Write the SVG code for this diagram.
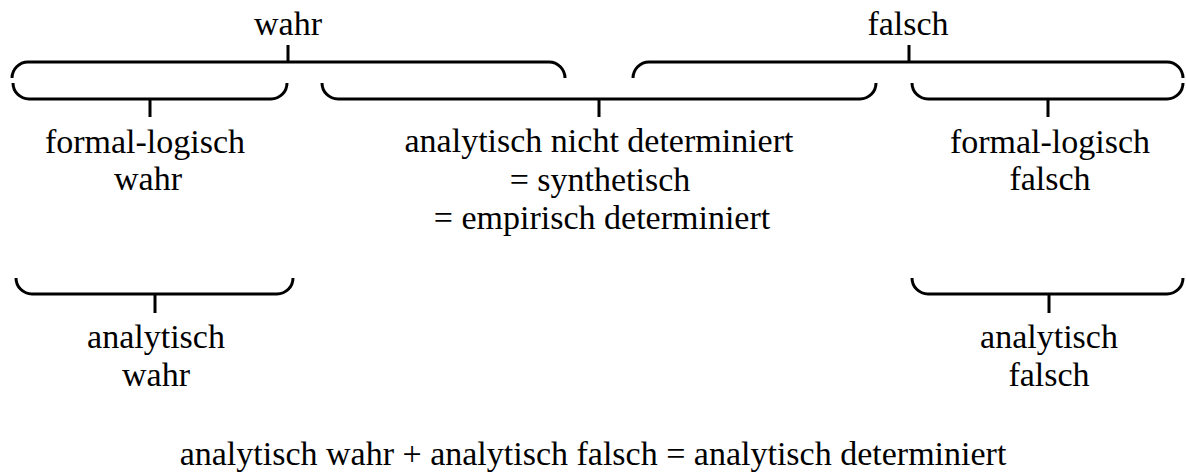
<svg xmlns="http://www.w3.org/2000/svg" width="1186" height="472" viewBox="0 0 1186 472">
<style>
.b{fill:none;stroke:#000;stroke-width:3}
text{font-family:'Liberation Serif','Times New Roman','DejaVu Serif',serif;font-size:34px;fill:#000;text-anchor:middle}
</style>
<rect width="1186" height="472" fill="#fff"/>
<g id="connectors">
<path class="b" d="M12,78 A16,16 0 0 1 28,62 H549 A16,16 0 0 1 565,78 M288,45 V62"/>
<path class="b" d="M633,78 A16,16 0 0 1 649,62 H1167 A16,16 0 0 1 1183,78 M909,45 V62"/>
<path class="b" d="M13,83 A16,16 0 0 0 29,99 H271 A16,16 0 0 0 287,83 M150,99 V117"/>
<path class="b" d="M322,83 A16,16 0 0 0 338,99 H860 A16,16 0 0 0 876,83 M599,99 V117"/>
<path class="b" d="M912,83 A16,16 0 0 0 928,99 H1167 A16,16 0 0 0 1183,83 M1048,99 V117"/>
<path class="b" d="M16,278 A16,16 0 0 0 32,294 H277 A16,16 0 0 0 293,278 M155,294 V313"/>
<path class="b" d="M912,278 A16,16 0 0 0 928,294 H1167 A16,16 0 0 0 1183,278 M1049,294 V313"/>
</g>
<g font-family="Liberation Serif, Times New Roman, serif">
<g id="wahr"><text x="288" y="35">wahr</text></g>
<g id="falsch"><text x="908" y="35">falsch</text></g>
<g id="formal-wahr"><text x="145" y="153">formal-logisch</text><text x="148" y="190">wahr</text></g>
<g id="synthetisch"><text x="599" y="152">analytisch nicht determiniert</text><text x="600" y="191">= synthetisch</text><text x="602" y="229">= empirisch determiniert</text></g>
<g id="formal-falsch"><text x="1050" y="153">formal-logisch</text><text x="1050" y="190">falsch</text></g>
<g id="analytisch-wahr"><text x="156" y="348">analytisch</text><text x="156" y="386">wahr</text></g>
<g id="analytisch-falsch"><text x="1049" y="348">analytisch</text><text x="1049" y="386">falsch</text></g>
<g id="summary"><text x="593" y="465">analytisch wahr + analytisch falsch = analytisch determiniert</text></g>
</g>
</svg>
